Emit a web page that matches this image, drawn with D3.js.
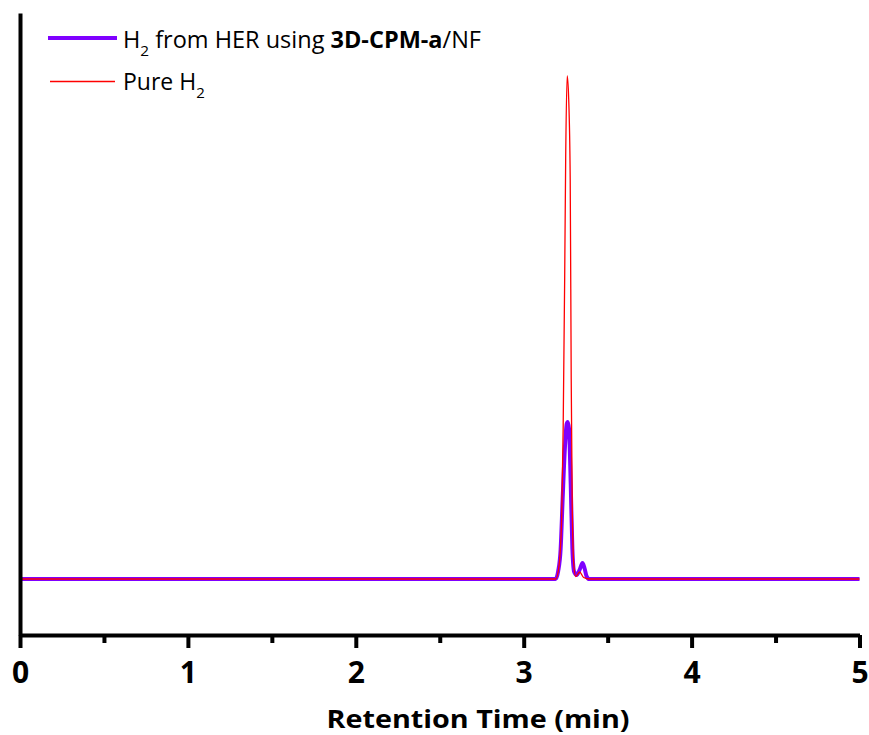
<!DOCTYPE html>
<html>
<head>
<meta charset="utf-8">
<script src="https://cdn.jsdelivr.net/npm/d3@7"></script>
<style>
  html, body { margin: 0; padding: 0; background: #ffffff; }
  svg { display: block; }
</style>
</head>
<body>
<svg id="chart" width="869" height="735"></svg>
<script>
// ---- data ----
const xTicks = [0, 1, 2, 3, 4, 5];
const xMinorTicks = [0.5, 1.5, 2.5, 3.5, 4.5];
const xLabel = "Retention Time (min)";

// H2 from HER using 3D-CPM-a/NF (purple)
const herTime      = [0, 3.19, 3.205, 3.22, 3.232, 3.245, 3.256, 3.262, 3.27, 3.28, 3.29, 3.30, 3.315, 3.335, 3.35, 3.362, 3.375, 3.39, 5];
const herSignal    = [0, 0,    0.15,  0.6,  1.6,   2.6,   3.1,   3.14,  3.0,  1.9,  0.6,  0.15, 0.08,  0.2,   0.32, 0.22,  0.05,  0,    0];

// Pure H2 (red)
const pureTime     = [0, 3.19, 3.208, 3.226, 3.235, 3.244, 3.250, 3.259, 3.268, 3.277, 3.283, 3.289, 3.298, 3.31, 3.333, 3.357, 3.393, 5];
const pureSignal   = [0, 0,    0.2,   1.2,   3.0,   6.0,   8.4,   10.06, 9.6,   8.0,   4.0,   1.5,   0.3,   0.05, 0.14,  0.03,  0,     0];

const seriesNames  = ["H2 from HER using 3D-CPM-a/NF", "Pure H2"];
const seriesColors = ["#7F00FF", "#FF0000"];

// ---- layout ----
const svg = d3.select("#chart");
const x = d3.scaleLinear().domain([0, 5]).range([20, 859.5]);
const y = d3.scaleLinear().domain([-1.12, 11.32]).range([635, 13]);

const line = d3.line().x(d => x(d[0])).y(d => y(d[1]));

// series
const herData = herTime.map((t, i) => [t, herSignal[i]]);
const pureData = pureTime.map((t, i) => [t, pureSignal[i]]);

svg.append("path").datum(herData)
  .attr("d", line.curve(d3.curveMonotoneX))
  .attr("fill", "none").attr("stroke", seriesColors[0])
  .attr("stroke-width", 4).attr("stroke-linejoin", "round");

svg.append("path").datum(pureData)
  .attr("d", d3.line().x(d => x(d[0])).y(d => y(d[1])).curve(d3.curveMonotoneX))
  .attr("fill", "none").attr("stroke", seriesColors[1])
  .attr("stroke-width", 1.3).attr("stroke-linejoin", "round");

// axes
const axisColor = "#000";
const xAxis = svg.append("g").attr("transform", "translate(0,635)")
  .call(d3.axisBottom(x).tickValues(xTicks).tickSize(13).tickSizeOuter(0).tickFormat(d3.format("d")));
xAxis.select(".domain").attr("stroke", axisColor).attr("stroke-width", 4);
xAxis.selectAll(".tick line").attr("stroke", axisColor).attr("stroke-width", 4);
xAxis.selectAll(".tick text")
  .attr("font-family", "'Open Sans', sans-serif").attr("font-weight", "bold")
  .attr("font-size", 30).attr("fill", "#000")
  .attr("dy", null).attr("y", 48);

const xMinor = svg.append("g").attr("transform", "translate(0,635)")
  .call(d3.axisBottom(x).tickValues(xMinorTicks).tickSize(8).tickFormat(""));
xMinor.select(".domain").remove();
xMinor.selectAll(".tick line").attr("stroke", axisColor).attr("stroke-width", 4);

const yAxis = svg.append("g").attr("transform", "translate(20,0)")
  .call(d3.axisLeft(y).tickValues([]).tickSizeOuter(0));
yAxis.select(".domain").attr("stroke", axisColor).attr("stroke-width", 4);

// x label
svg.append("text")
  .attr("x", 478).attr("y", 728)
  .attr("text-anchor", "middle")
  .attr("font-family", "'Open Sans', sans-serif").attr("font-weight", "bold")
  .attr("font-size", 25).attr("fill", "#000")
  .attr("textLength", 303).attr("lengthAdjust", "spacingAndGlyphs")
  .text(xLabel);

// legend
const legendFont = "'Open Sans', sans-serif";
svg.append("line").attr("x1", 48).attr("x2", 117).attr("y1", 38).attr("y2", 38)
  .attr("stroke", seriesColors[0]).attr("stroke-width", 4);
svg.append("line").attr("x1", 50).attr("x2", 115).attr("y1", 81.5).attr("y2", 81.5)
  .attr("stroke", seriesColors[1]).attr("stroke-width", 1.3);

const t1 = svg.append("text").attr("x", 123).attr("y", 48)
  .attr("font-family", legendFont).attr("font-size", 23).attr("fill", "#000")
  .attr("textLength", 358).attr("lengthAdjust", "spacingAndGlyphs");
t1.append("tspan").text("H");
t1.append("tspan").attr("font-size", 15).attr("dy", 8).text("2");
t1.append("tspan").attr("dy", -8).text(" from HER using ");
t1.append("tspan").attr("font-weight", "bold").text("3D-CPM-a");
t1.append("tspan").text("/NF");

const t2 = svg.append("text").attr("x", 123).attr("y", 90)
  .attr("font-family", legendFont).attr("font-size", 23).attr("fill", "#000");
t2.append("tspan").text("Pure H");
t2.append("tspan").attr("font-size", 15).attr("dy", 8).text("2");
</script>
</body>
</html>
